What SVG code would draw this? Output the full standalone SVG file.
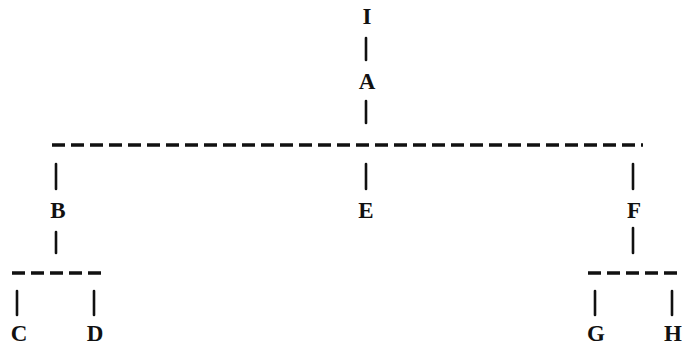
<svg xmlns="http://www.w3.org/2000/svg" width="682" height="347" viewBox="0 0 682 347">
<style>
.t{font-family:"Liberation Serif","Times New Roman",serif;font-size:23px;font-weight:bold;fill:#111;text-anchor:middle}
.bar{stroke:#111;stroke-width:2.6;stroke-linecap:round}
.dash{stroke:#111;stroke-width:3.6;stroke-dasharray:13 6}
</style>
<rect width="682" height="347" fill="#fff"/>
<g id="connectors">
<line class="bar" x1="366" y1="38" x2="366" y2="60"/>
<line class="bar" x1="366" y1="101" x2="366" y2="123"/>
<line class="dash" x1="52" y1="145" x2="643" y2="145"/>
<line class="bar" x1="56" y1="164" x2="56" y2="189"/>
<line class="bar" x1="366" y1="164" x2="366" y2="189"/>
<line class="bar" x1="633" y1="164" x2="633" y2="189"/>
<line class="bar" x1="56" y1="232" x2="56" y2="253"/>
<line class="bar" x1="633" y1="228" x2="633" y2="253"/>
<line class="dash" x1="12" y1="273" x2="101" y2="273"/>
<line class="dash" x1="588" y1="273" x2="677" y2="273"/>
<line class="bar" x1="17" y1="291" x2="17" y2="315"/>
<line class="bar" x1="94" y1="291" x2="94" y2="315"/>
<line class="bar" x1="595" y1="291" x2="595" y2="315"/>
<line class="bar" x1="672" y1="291" x2="672" y2="315"/>
</g>
<g id="node-I"><text class="t" x="367" y="24">I</text></g>
<g id="node-A"><text class="t" x="367" y="89">A</text></g>
<g id="node-B"><text class="t" x="58" y="218">B</text></g>
<g id="node-E"><text class="t" x="366" y="218">E</text></g>
<g id="node-F"><text class="t" x="634" y="218">F</text></g>
<g id="node-C"><text class="t" x="19" y="341">C</text></g>
<g id="node-D"><text class="t" x="95" y="341">D</text></g>
<g id="node-G"><text class="t" x="596" y="341">G</text></g>
<g id="node-H"><text class="t" x="673" y="341">H</text></g>
</svg>
